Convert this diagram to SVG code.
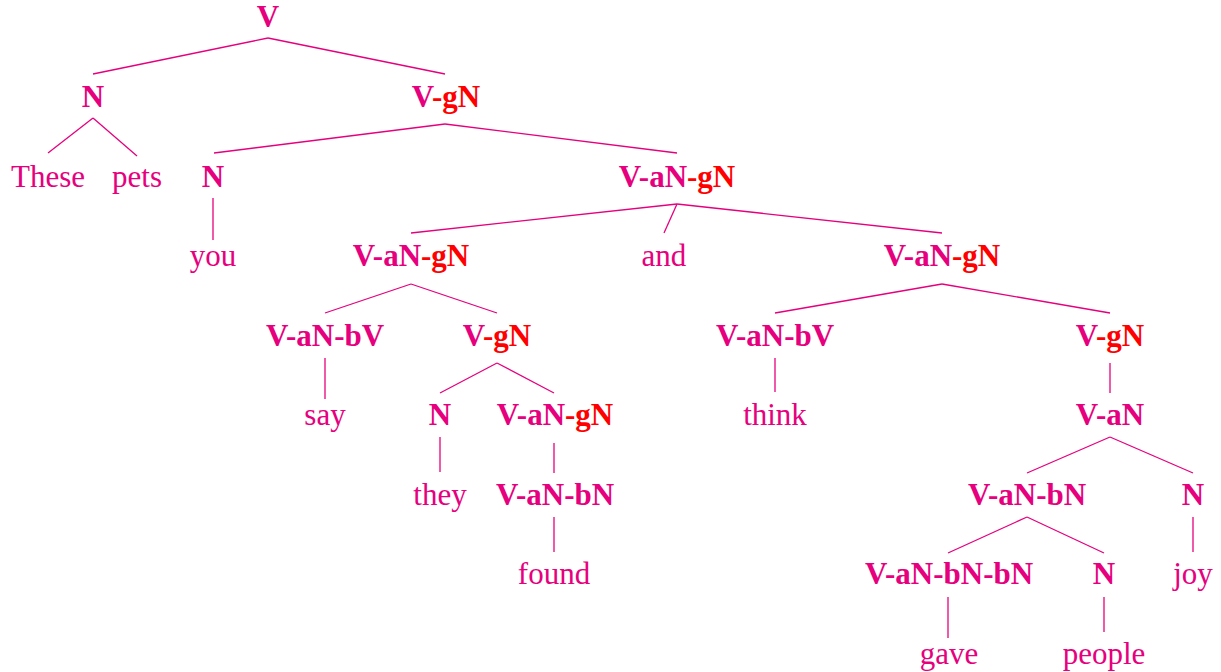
<svg xmlns="http://www.w3.org/2000/svg" width="1221" height="672" viewBox="0 0 1221 672">
<style>
text{font-family:"Liberation Serif","Times New Roman",serif;font-size:31px;fill:#e6007e;text-anchor:middle}
.c{font-weight:bold}
.r{fill:#ff0000}
.edges line{stroke:#e6007e;stroke-width:1.3;fill:none}
</style>
<rect width="1221" height="672" fill="#ffffff"/>
<g class="edges" id="connectors">
<line x1="268" y1="38" x2="93" y2="74"/>
<line x1="268" y1="38" x2="445" y2="74"/>
<line x1="93" y1="118" x2="48" y2="153"/>
<line x1="93" y1="118" x2="137" y2="156"/>
<line x1="445" y1="124" x2="214" y2="153"/>
<line x1="445" y1="124" x2="677" y2="153"/>
<line x1="213" y1="198" x2="213" y2="240"/>
<line x1="677" y1="204" x2="411" y2="233"/>
<line x1="677" y1="204" x2="664" y2="233"/>
<line x1="677" y1="204" x2="942" y2="233"/>
<line x1="411" y1="284" x2="325" y2="313"/>
<line x1="411" y1="284" x2="497" y2="313"/>
<line x1="942" y1="284" x2="775" y2="313"/>
<line x1="942" y1="284" x2="1110" y2="313"/>
<line x1="325" y1="358" x2="325" y2="399"/>
<line x1="497" y1="363" x2="440" y2="393"/>
<line x1="497" y1="363" x2="554" y2="393"/>
<line x1="775" y1="358" x2="775" y2="392"/>
<line x1="1110" y1="363" x2="1110" y2="393"/>
<line x1="440" y1="437" x2="440" y2="472"/>
<line x1="554" y1="443" x2="554" y2="473"/>
<line x1="1110" y1="437" x2="1027" y2="473"/>
<line x1="1110" y1="437" x2="1193" y2="473"/>
<line x1="554" y1="517" x2="554" y2="552"/>
<line x1="1027" y1="517" x2="948" y2="553"/>
<line x1="1027" y1="517" x2="1104" y2="553"/>
<line x1="1193" y1="517" x2="1193" y2="552"/>
<line x1="948" y1="597" x2="948" y2="638"/>
<line x1="1104" y1="597" x2="1104" y2="632"/>
</g>
<g id="n-V"><text class="c" x="268" y="27">V</text></g>
<g id="n-N1"><text class="c" x="93" y="107">N</text></g>
<g id="n-VgN1"><text class="c" x="446" y="107">V<tspan class="r">-gN</tspan></text></g>
<g id="n-These"><text x="48" y="187">These</text></g>
<g id="n-pets"><text x="137" y="187">pets</text></g>
<g id="n-N2"><text class="c" x="213" y="187">N</text></g>
<g id="n-VaNgN1"><text class="c" x="677" y="187">V-aN<tspan class="r">-gN</tspan></text></g>
<g id="n-you"><text x="213" y="266">you</text></g>
<g id="n-VaNgN2"><text class="c" x="411" y="266">V-aN<tspan class="r">-gN</tspan></text></g>
<g id="n-and"><text x="664" y="266">and</text></g>
<g id="n-VaNgN3"><text class="c" x="942" y="266">V-aN<tspan class="r">-gN</tspan></text></g>
<g id="n-VaNbV1"><text class="c" x="325" y="346">V-aN-bV</text></g>
<g id="n-VgN2"><text class="c" x="497" y="346">V<tspan class="r">-gN</tspan></text></g>
<g id="n-VaNbV2"><text class="c" x="775" y="346">V-aN-bV</text></g>
<g id="n-VgN3"><text class="c" x="1110" y="346">V<tspan class="r">-gN</tspan></text></g>
<g id="n-say"><text x="325" y="425">say</text></g>
<g id="n-N3"><text class="c" x="440" y="425">N</text></g>
<g id="n-VaNgN4"><text class="c" x="555" y="425">V-aN<tspan class="r">-gN</tspan></text></g>
<g id="n-think"><text x="775" y="425">think</text></g>
<g id="n-VaN"><text class="c" x="1110" y="425">V-aN</text></g>
<g id="n-they"><text x="440" y="505">they</text></g>
<g id="n-VaNbN1"><text class="c" x="555" y="505">V-aN-bN</text></g>
<g id="n-VaNbN2"><text class="c" x="1027" y="505">V-aN-bN</text></g>
<g id="n-N4"><text class="c" x="1193" y="505">N</text></g>
<g id="n-found"><text x="554" y="584">found</text></g>
<g id="n-VaNbNbN"><text class="c" x="949" y="584">V-aN-bN-bN</text></g>
<g id="n-N5"><text class="c" x="1104" y="584">N</text></g>
<g id="n-joy"><text x="1193" y="584">joy</text></g>
<g id="n-gave"><text x="949" y="664">gave</text></g>
<g id="n-people"><text x="1104" y="664">people</text></g>
</svg>
